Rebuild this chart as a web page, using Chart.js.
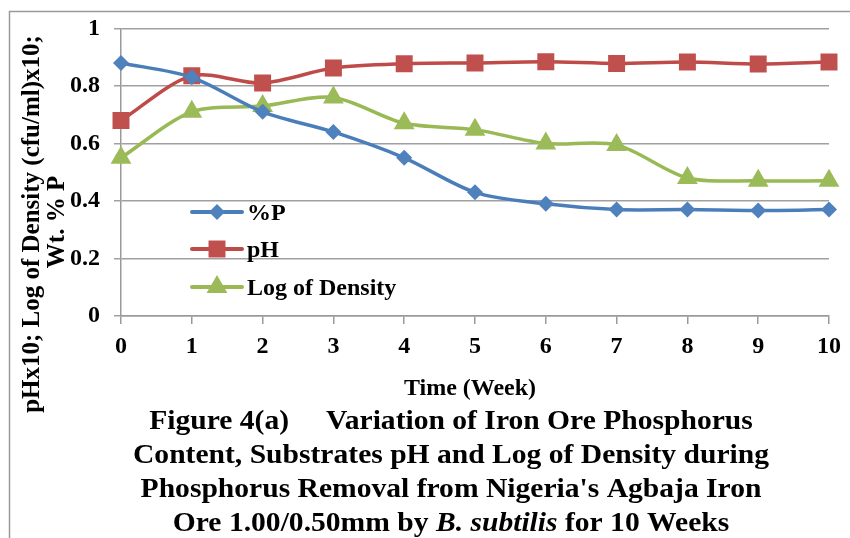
<!DOCTYPE html>
<html>
<head>
<meta charset="utf-8">
<script src="https://cdn.jsdelivr.net/npm/chart.js@4"></script>
<style>
html,body{margin:0;padding:0;background:#fff;}
#c{display:block;}
</style>
</head>
<body>
<canvas id="c" width="850" height="538"></canvas>
<script>
const weeks = ['0','1','2','3','4','5','6','7','8','9','10'];
const pctP = [0.88, 0.83, 0.71, 0.64, 0.55, 0.43, 0.39, 0.37, 0.37, 0.367, 0.37];
const pH = [0.68, 0.835, 0.81, 0.862, 0.877, 0.88, 0.884, 0.878, 0.883, 0.876, 0.883];
const logDensity = [0.55, 0.71, 0.73, 0.76, 0.67, 0.648, 0.60, 0.595, 0.48, 0.47, 0.47];
const yTickLabels = ['0', '0.2', '0.4', '0.6', '0.8', '1'];
const seriesNames = ['%P', 'pH', 'Log of Density'];
const xTitle = 'Time (Week)';
const yTitle = ['pHx10; Log of Density (cfu/ml)x10;', 'Wt. % P'];
const caption = [
  [['Figure 4(a)     Variation of Iron Ore Phosphorus', false]],
  [['Content, Substrates pH and Log of Density during', false]],
  [["Phosphorus Removal from Nigeria's Agbaja Iron", false]],
  [['Ore 1.00/0.50mm by ', false], ['B. subtilis', true], [' for 10 Weeks', false]]
];

const FAM = '"Liberation Serif", "Times New Roman", serif';
const colors = [
  {line:'#4a7ebb', pt:'#4f81bd', style:'rectRot', r:8},
  {line:'#be4b48', pt:'#c0504d', style:'rect', r:12},
  {line:'#98b954', pt:'#9bbb59', style:'triangle', r:12}
];
const series = [pctP, pH, logDensity];

function marker(ctx, style, x, y, r, col){
  ctx.save();
  ctx.fillStyle = col;
  ctx.beginPath();
  if(style==='rect'){
    const s = Math.SQRT1_2*r;
    ctx.rect(x-s, y-s, 2*s, 2*s);
  } else if(style==='rectRot'){
    ctx.moveTo(x, y-r); ctx.lineTo(x+r, y); ctx.lineTo(x, y+r); ctx.lineTo(x-r, y); ctx.closePath();
  } else {
    ctx.moveTo(x, y-r);
    ctx.lineTo(x+r*Math.sin(Math.PI*2/3), y - r*Math.cos(Math.PI*2/3));
    ctx.lineTo(x-r*Math.sin(Math.PI*2/3), y - r*Math.cos(Math.PI*2/3));
    ctx.closePath();
  }
  ctx.fill();
  ctx.restore();
}

const decor = {
  id:'decor',
  beforeDraw(chart){
    const ctx = chart.ctx;
    ctx.save();
    ctx.fillStyle='#fff';
    ctx.fillRect(0,0,chart.width,chart.height);
    ctx.strokeStyle='#9a9a9a';
    ctx.lineWidth=1.5;
    ctx.beginPath();
    ctx.moveTo(9.5, 538); ctx.lineTo(9.5, 11.5); ctx.lineTo(850, 11.5);
    ctx.stroke();
    ctx.restore();
  },
  afterDraw(chart){
    const ctx = chart.ctx;
    ctx.save();
    ctx.fillStyle='#000';
    // y title
    ctx.font = 'bold 25px '+FAM;
    ctx.textAlign='center'; ctx.textBaseline='middle';
    ctx.save(); ctx.translate(33, 224); ctx.rotate(-Math.PI/2); ctx.fillText(yTitle[0],0,0); ctx.restore();
    ctx.save(); ctx.translate(58, 222); ctx.rotate(-Math.PI/2); ctx.fillText(yTitle[1],0,0); ctx.restore();
    // x title
    ctx.font = 'bold 24px '+FAM;
    ctx.textBaseline='alphabetic';
    ctx.fillText(xTitle, 470, 395);
    // caption
    ctx.font = 'bold 28px '+FAM;
    const ref = ctx.measureText(caption[1][0][0]).width;
    const sx = 636/ref;
    const baselines = [429, 463, 497, 531];
    caption.forEach((segs, i) => {
      let total = 0;
      const widths = segs.map(([t, it]) => {
        ctx.font = (it?'italic ':'')+'bold 28px '+FAM;
        const w = ctx.measureText(t).width; total += w; return w;
      });
      ctx.save();
      ctx.translate(451, baselines[i]);
      ctx.scale(sx, 1);
      let x = -total/2;
      ctx.textAlign='left';
      segs.forEach(([t, it], j) => {
        ctx.font = (it?'italic ':'')+'bold 28px '+FAM;
        ctx.fillText(t, x, 0);
        x += widths[j];
      });
      ctx.restore();
    });
    // legend
    const rows = [212, 249, 287];
    ctx.font = 'bold 24px '+FAM;
    ctx.textAlign='left'; ctx.textBaseline='middle';
    rows.forEach((y, i) => {
      ctx.strokeStyle = colors[i].line;
      ctx.lineWidth = 4;
      ctx.lineCap='round';
      ctx.beginPath(); ctx.moveTo(192, y); ctx.lineTo(242, y); ctx.stroke();
      marker(ctx, colors[i].style, 217, y, colors[i].r, colors[i].pt);
      ctx.fillStyle='#000';
      ctx.fillText(seriesNames[i], 247, y+2);
    });
    ctx.restore();
  }
};

new Chart(document.getElementById('c'), {
  type:'line',
  data:{
    labels: weeks,
    datasets: series.map((d, i) => ({
      label: seriesNames[i],
      data: d,
      borderColor: colors[i].line,
      backgroundColor: colors[i].pt,
      pointBackgroundColor: colors[i].pt,
      pointBorderColor: colors[i].pt,
      pointBorderWidth: 0,
      pointStyle: colors[i].style,
      pointRadius: colors[i].r,
      borderWidth: 3.5,
      tension: 0.3,
      fill:false
    }))
  },
  options:{
    responsive:false,
    animation:false,
    devicePixelRatio:1,
    layout:{padding:{left:0, right:21, top:26, bottom:0}},
    plugins:{legend:{display:false}, tooltip:{enabled:false}},
    scales:{
      x:{
        offset:false,
        grid:{drawOnChartArea:false, drawTicks:true, tickLength:8, color:'#9a9a9a', lineWidth:1.5},
        border:{color:'#9a9a9a', width:1.5},
        ticks:{color:'#000', font:{family:FAM, size:24, weight:'bold'}, padding:8, maxRotation:0, autoSkip:false},
        afterFit(s){ s.height = 222; }
      },
      y:{
        min:0, max:1,
        grid:{color:'#a0a0a0', lineWidth:1.5, tickLength:7},
        border:{color:'#9a9a9a', width:1.5},
        ticks:{stepSize:0.2, color:'#000', font:{family:FAM, size:24, weight:'bold'}, padding:14,
          callback(v, idx){ return yTickLabels[idx]; }},
        afterFit(s){ s.width = 121; }
      }
    }
  },
  plugins:[decor]
});
</script>
</body>
</html>
